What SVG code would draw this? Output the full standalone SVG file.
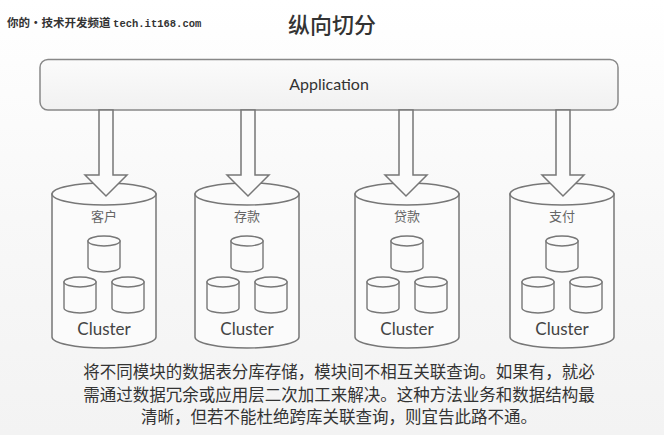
<svg xmlns="http://www.w3.org/2000/svg" xmlns:xlink="http://www.w3.org/1999/xlink" width="664" height="435" viewBox="0 0 664 435">
<defs>
<linearGradient id="bg" x1="0" y1="0" x2="0" y2="1">
<stop offset="0" stop-color="#ffffff"/>
<stop offset="0.5" stop-color="#f8f8f8"/>
<stop offset="1" stop-color="#f3f3f3"/>
</linearGradient>
<linearGradient id="appfill" x1="0" y1="0" x2="0" y2="1">
<stop offset="0" stop-color="#fbfbfb"/>
<stop offset="1" stop-color="#f1f1f1"/>
</linearGradient>
<g id="small">
<path d="M-16,0 L-16,26 A16 5 0 0 0 16,26 L16,0 Z" fill="#fbfbfb" stroke="#777" stroke-width="1.4"/>
<ellipse cx="0" cy="0" rx="16" ry="5" fill="#fbfbfb" stroke="#777" stroke-width="1.4"/>
</g>
<g id="big">
<path d="M-52,0 L-52,143 A52 11 0 0 0 52,143 L52,0 Z" fill="#fbfbfb" stroke="#777" stroke-width="1.5"/>
<ellipse cx="0" cy="0" rx="52" ry="11" fill="#fbfbfb" stroke="#777" stroke-width="1.5"/>
<use xlink:href="#small" x="0" y="47"/>
<use xlink:href="#small" x="-24" y="88"/>
<use xlink:href="#small" x="24" y="88"/>
</g>
<path id="arrow" d="M-7,0 L7,0 L7,65 L21,65 L0,86 L-21,65 L-7,65 Z" fill="#fbfbfb" stroke="#777" stroke-width="1.5" stroke-linejoin="miter"/>
</defs>
<style>
.cn{font-family:"Noto Sans CJK SC",sans-serif;}
.lbl{font-family:"Noto Sans CJK SC",sans-serif;font-size:13px;fill:#666;text-anchor:middle;}
.cl{font-family:Lato,"Open Sans",sans-serif;font-size:17px;fill:#444;text-anchor:middle;}
.para{font-family:"Noto Sans CJK SC",sans-serif;font-size:16.5px;fill:#333;text-anchor:middle;}
</style>
<rect x="0" y="0" width="664" height="435" fill="url(#bg)"/>
<text x="7" y="27" class="cn" font-size="11.5" font-weight="bold" fill="#333">你的•技术开发频道 <tspan font-family="'Liberation Mono',monospace" font-size="10.5">tech.it168.com</tspan></text>
<text x="332" y="33" class="cn" font-size="22" font-weight="500" fill="#333" text-anchor="middle">纵向切分</text>
<g id="application">
<rect x="40" y="59.5" width="578" height="50.5" rx="8" fill="url(#appfill)" stroke="#888" stroke-width="1.5"/>
<text x="329" y="90" font-family="Lato,'Open Sans',sans-serif" font-size="16" fill="#333" text-anchor="middle">Application</text>
</g>
<g id="cluster-kehu">
<use xlink:href="#big" x="104" y="194"/>
</g>
<g id="cluster-cunkuan">
<use xlink:href="#big" x="247" y="194"/>
</g>
<g id="cluster-daikuan">
<use xlink:href="#big" x="407" y="194"/>
</g>
<g id="cluster-zhifu">
<use xlink:href="#big" x="562" y="194"/>
</g>
<g id="connectors">
<use xlink:href="#arrow" x="106" y="110"/>
<use xlink:href="#arrow" x="248" y="110"/>
<use xlink:href="#arrow" x="406" y="110"/>
<use xlink:href="#arrow" x="563" y="110"/>
</g>
<g id="labels">
<text x="104" y="221" class="lbl">客户</text>
<text x="247" y="221" class="lbl">存款</text>
<text x="407" y="221" class="lbl">贷款</text>
<text x="562" y="221" class="lbl">支付</text>
<text x="104" y="335" class="cl">Cluster</text>
<text x="247" y="335" class="cl">Cluster</text>
<text x="407" y="335" class="cl">Cluster</text>
<text x="562" y="335" class="cl">Cluster</text>
</g>
<text x="339" y="378" class="para">将不同模块的数据表分库存储，模块间不相互关联查询。如果有，就必</text>
<text x="339" y="401" class="para">需通过数据冗余或应用层二次加工来解决。这种方法业务和数据结构最</text>
<text x="339" y="423" class="para">清晰，但若不能杜绝跨库关联查询，则宜告此路不通。</text>
</svg>
